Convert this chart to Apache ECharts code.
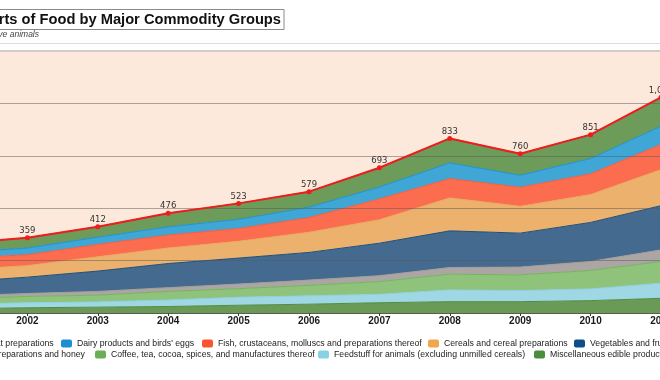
<!DOCTYPE html>
<html>
<head>
<meta charset="utf-8">
<script src="https://cdn.jsdelivr.net/npm/echarts@6/dist/echarts.min.js"></script>
<style>
html,body{margin:0;padding:0;background:#fff;}
#chart{width:660px;height:380px;}
</style>
</head>
<body>
<div id="chart"></div>
<script>
// ---- data (billion US$) ----
const years = ['2001','2002','2003','2004','2005','2006','2007','2008','2009','2010','2011'];
const misc      = [20, 25, 28, 31, 37, 42, 49, 54, 54, 59, 70];
const feedstuff = [21, 24, 25, 31, 38, 40, 40, 56, 53, 56, 72];
const coffee    = [27, 30, 32, 41, 41, 50, 61, 75, 75, 88, 104];
const sugar     = [13, 14, 18, 18, 22, 25, 28, 32, 37, 43, 55];
const vegetables= [67, 78, 97, 115, 124, 132, 155, 175, 162, 186, 211];
const cereals   = [57, 55, 68, 74, 80, 96, 112, 157, 128, 133, 172];
const fish      = [56, 52, 59, 62, 61, 70, 99, 92, 91, 99, 120];
const dairy     = [27, 32, 35, 39, 44, 50, 57, 75, 57, 73, 87];
const meat      = [42, 49, 50, 65, 76, 74, 92, 117, 103, 114, 138];
const total     = [330, 359, 412, 476, 523, 579, 693, 833, 760, 851, 1029];

const titleText = 'World Exports of Food by Major Commodity Groups';
const subtitleText = 'Billion US dollars, excluding live animals';

const names = {
  meat: 'Meat and meat preparations',
  dairy: "Dairy products and birds' eggs",
  fish: 'Fish, crustaceans, molluscs and preparations thereof',
  cereals: 'Cereals and cereal preparations',
  veg: 'Vegetables and fruit',
  sugar: 'Sugar, sugar preparations and honey',
  coffee: 'Coffee, tea, cocoa, spices, and manufactures thereof',
  feed: 'Feedstuff for animals (excluding unmilled cereals)',
  misc: 'Miscellaneous edible products and preparations'
};

// bottom to top stacking
const stackDefs = [
  {name: names.misc,   data: misc,       icon: '#4a8d3c', line: '#4e8e3e', area: '#6a9a55'},
  {name: names.feed,   data: feedstuff,  icon: '#86d1e6', line: '#8dd2e2', area: '#9fd7e4'},
  {name: names.coffee, data: coffee,     icon: '#6aae55', line: '#72b65c', area: '#8fc27a'},
  {name: names.sugar,  data: sugar,      icon: '#9e9e9e', line: '#a39e9b', area: '#aba6a3'},
  {name: names.veg,    data: vegetables, icon: '#0e4e8b', line: '#1d4f7e', area: '#446b8f'},
  {name: names.cereals,data: cereals,    icon: '#efa64e', line: '#e8aa60', area: '#ebb16d'},
  {name: names.fish,   data: fish,       icon: '#fb5530', line: '#f85c3c', area: '#fb6d4e'},
  {name: names.dairy,  data: dairy,      icon: '#1b8fd2', line: '#1a94d4', area: '#3fa6d6'},
  {name: names.meat,   data: meat,       icon: '#4f8f3f', line: '#5a8a45', area: '#6d9b59'}
];

const series = stackDefs.map(d => ({
  name: d.name,
  type: 'line',
  stack: 'food',
  data: d.data,
  symbol: 'none',
  z: 2,
  lineStyle: {width: 1, color: d.line},
  areaStyle: {color: d.area, opacity: 1},
  itemStyle: {color: d.icon},
  emphasis: {disabled: true}
}));

series.push({
  name: 'Total',
  type: 'line',
  data: total,
  z: 6,
  symbol: 'circle',
  symbolSize: 5,
  lineStyle: {width: 2, color: '#ee1c1c'},
  itemStyle: {color: '#ee1c1c'},
  label: {
    show: true, position: 'top', distance: 0,
    fontFamily: 'DejaVu Sans', fontSize: 8.5, color: '#333',
    formatter: p => Number(p.value).toLocaleString('en-US')
  },
  emphasis: {disabled: true}
});

const legendText = {fontFamily: 'Liberation Sans', fontSize: 8.7, color: '#222', lineHeight: 11};
function leg(name, left, top) {
  return {data: [name], left: left, top: top, padding: 0, itemGap: 0,
          itemWidth: 11, itemHeight: 8, icon: 'roundRect', selectedMode: false,
          textStyle: legendText};
}
const row1 = 338, row2 = 349;

const option = {
  animation: false,
  backgroundColor: '#ffffff',
  grid: {left: -43, right: -1, top: 51, bottom: 67, show: true, backgroundColor: '#fde9dc', borderWidth: 0,
         containLabel: false, outerBoundsMode: 'none'},
  xAxis: {
    type: 'category', data: years, boundaryGap: false,
    axisLine: {lineStyle: {color: '#5a5a5a', width: 2}},
    axisTick: {show: true, length: 3, lineStyle: {color: '#333'}},
    axisLabel: {fontFamily: 'Liberation Sans', fontWeight: 'bold', fontSize: 10, color: '#1a1a1a', margin: 3,
                hideOverlap: false},
    splitLine: {show: false}
  },
  yAxis: {
    type: 'value', min: 0, max: 1250, interval: 250, z: 3,
    axisLabel: {show: false}, axisLine: {show: false}, axisTick: {show: false},
    splitLine: {lineStyle: {color: 'rgba(90,90,90,0.5)', width: 1}}
  },
  legend: [
    leg(names.meat, -71, row1),
    leg(names.dairy, 61, row1),
    leg(names.fish, 202, row1),
    leg(names.cereals, 428, row1),
    leg(names.veg, 574, row1),
    leg(names.sugar, -74, row2),
    leg(names.coffee, 95, row2),
    leg(names.feed, 318, row2),
    leg(names.misc, 534, row2)
  ],
  graphic: [
    {type: 'rect', z: 10, shape: {x: -320, y: 9.5, width: 604, height: 20},
     style: {fill: '#ffffff', stroke: '#8a8a8a', lineWidth: 1}},
    {type: 'text', z: 11, x: 281, y: 20,
     style: {text: titleText, align: 'right', textAlign: 'right', verticalAlign: 'middle', textVerticalAlign: 'middle',
             font: 'bold 14.7px "Liberation Sans"', fill: '#111'}},
    {type: 'text', z: 11, x: 39, y: 35,
     style: {text: subtitleText, align: 'right', textAlign: 'right', verticalAlign: 'middle', textVerticalAlign: 'middle',
             font: 'italic 8.5px "Liberation Sans"', fill: '#444'}},
    {type: 'line', z: 10, shape: {x1: 0, y1: 43.5, x2: 660, y2: 43.5},
     style: {stroke: '#dddddd', lineWidth: 1}},
    {type: 'line', z: 10, shape: {x1: 0, y1: 51, x2: 660, y2: 51},
     style: {stroke: '#d2cbc6', lineWidth: 2}}
  ],
  series: series
};

const chart = echarts.init(document.getElementById('chart'), null, {renderer: 'canvas'});
chart.setOption(option);
</script>
</body>
</html>
